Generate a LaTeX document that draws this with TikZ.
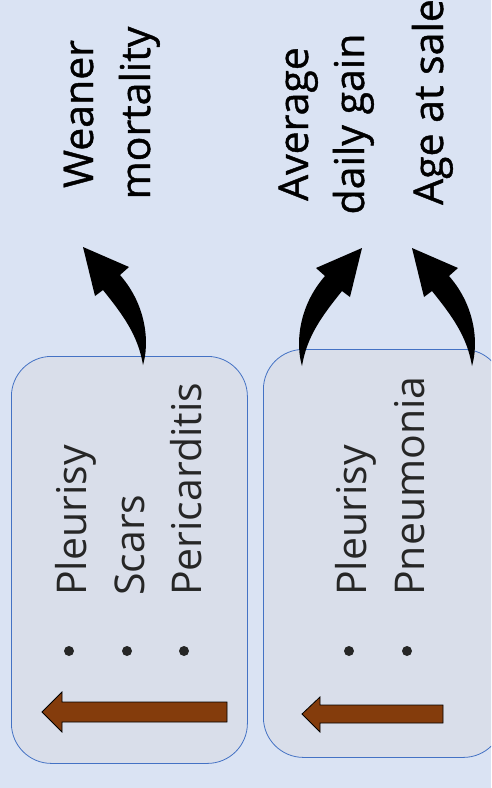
\documentclass[tikz,border=0pt]{standalone}
\usepackage{fontspec}
\setmainfont{Open Sans}
\newfontfamily\headfont[FakeBold=1]{Open Sans}
\usetikzlibrary{positioning}

\definecolor{pagebg}{RGB}{218,227,243}
\definecolor{boxfill}{RGB}{217,222,234}
\definecolor{boxline}{RGB}{68,114,196}
\definecolor{trendbrown}{RGB}{132,60,12}
\definecolor{listgray}{RGB}{38,38,38}

\tikzset{
  bend arrow/.pic={
    \fill[black] (0,0) .. controls (6,-20) and (5,-58) .. (-23,-90) -- (-14,-98) -- (-60,-118)
      -- (-48,-69) -- (-40,-75) .. controls (-20,-50) and (-5,-30) .. (0,0) -- cycle;
  }
}

\begin{document}
\begin{tikzpicture}[x=1pt, y=-1pt,
    outcome node/.style={rotate=90, anchor=base, inner sep=0pt, font=\headfont\fontsize{41}{48}\selectfont},
    lesion node/.style={rotate=90, anchor=base west, inner sep=0pt, text=listgray, font=\fontsize{41}{48}\selectfont},
    group box/.style={draw=boxline, fill=boxfill, rounded corners=40pt, line width=0.8pt, anchor=north west},
    dot node/.style={circle, fill=listgray, inner sep=0pt, minimum size=10pt},
    trend arrow/.style={fill=trendbrown, draw=black, line width=0.8pt, line join=miter}]
    \useasboundingbox (0,0) rectangle (491,788);
    \fill[pagebg] (0,0) rectangle (491,788);
    \clip (0,0) rectangle (491,788);

    \node[group box, minimum width=236pt, minimum height=407pt] (boxA) at (11,356) {};
    \node[group box, minimum width=240pt, minimum height=408pt] (boxB) at (263,349) {};

    \foreach \bx/\txt [count=\i] in {86/Pleurisy, 144/Scars, 201/Pericarditis} {
        \node[lesion node] (itemA\i) at (\bx,596) {\txt};
        \node[dot node] (dotA\i) at (\bx-17,651) {};
    }
    \foreach \bx/\txt [count=\i] in {366/Pleurisy, 424/Pneumonia} {
        \node[lesion node] (itemB\i) at (\bx,596) {\txt};
        \node[dot node] (dotB\i) at (\bx-17,651) {};
    }

    \filldraw[trend arrow] (42,712) -- (62,692) -- (62,702) -- (227,702) -- (227,722) -- (62,722) -- (62,732) -- cycle;
    \filldraw[trend arrow] (302,714) -- (320,697) -- (320,705) -- (443,705) -- (443,723) -- (320,723) -- (320,732) -- cycle;

    \node[outcome node] (weaner) at (93,114) {Weaner};
    \node[outcome node] (mortality) at (150,113) {mortality};
    \node[outcome node] (average) at (308,124) {Average};
    \node[outcome node] (dailygain) at (364,124) {daily gain};
    \node[outcome node] (agesale) at (443,102) {Age at sale};

    \coordinate (footA) at (143,365);
    \coordinate (footB) at (302,366);
    \coordinate (footC) at (472,366);
    \pic at (footA) {bend arrow};
    \pic[xscale=-1] at (footB) {bend arrow};
    \pic at (footC) {bend arrow};
\end{tikzpicture}
\end{document}
